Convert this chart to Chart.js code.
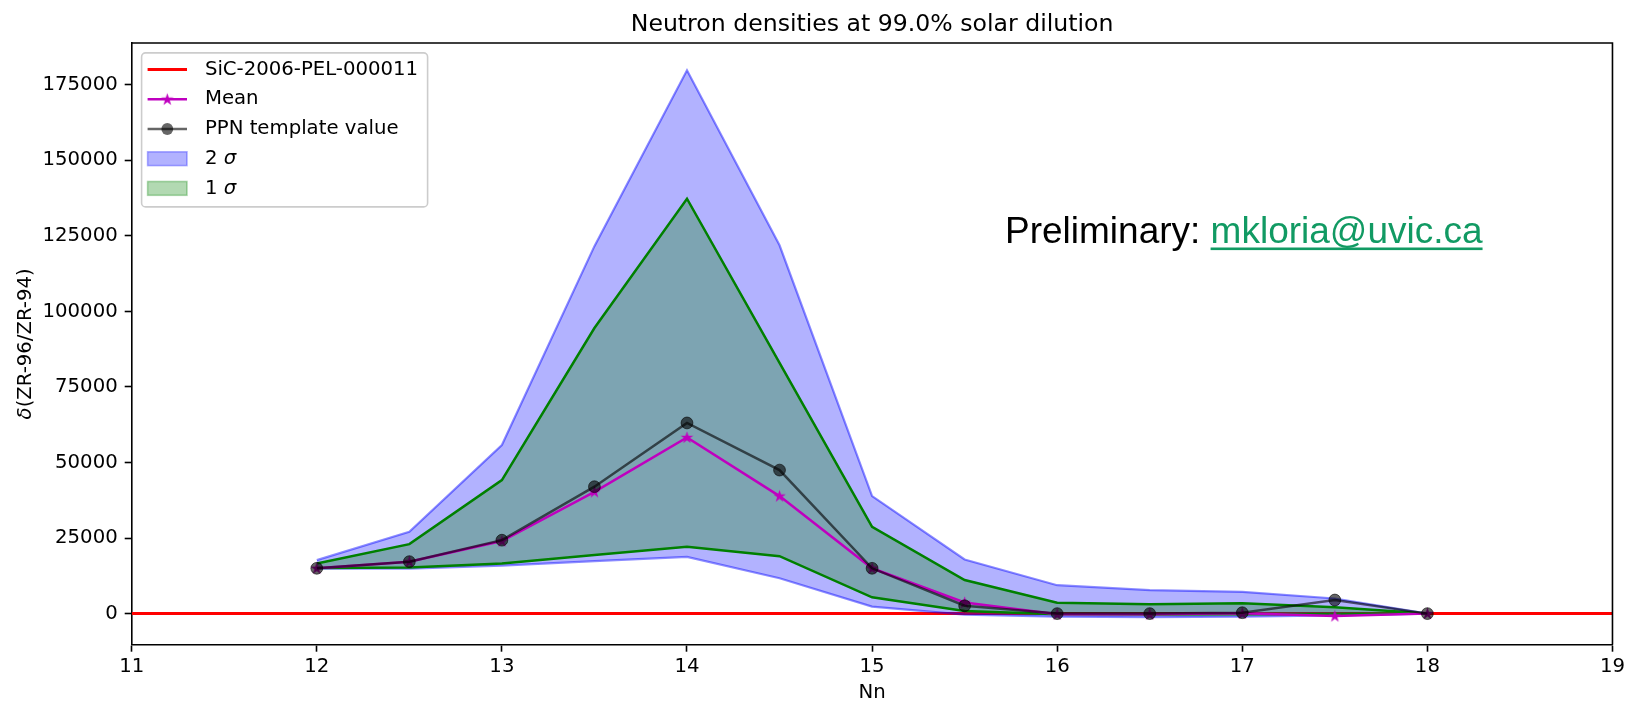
<!DOCTYPE html>
<html>
<head>
<meta charset="utf-8">
<title>Neutron densities at 99.0% solar dilution</title>
<script src="https://cdn.jsdelivr.net/npm/chart.js@4.4.1/dist/chart.umd.min.js"></script>
<style>
  html, body { margin: 0; padding: 0; background: #fff; }
  #wrap { width: 1628px; height: 703px; }
</style>
</head>
<body>
<div id="wrap"><canvas id="chart" width="1628" height="703"></canvas></div>
<script>
// values
const nn = [12, 12.5, 13, 13.5, 14, 14.5, 15, 15.5, 16, 16.5, 17, 17.5, 18];
const twoSigmaUpper = [17700, 27100, 55800, 121600, 179800, 121900, 38900, 17900, 9400, 7800, 7200, 5000, 0];
const twoSigmaLower = [14900, 14900, 15900, 17400, 18800, 11700, 2300, -300, -1000, -1200, -1000, -600, 0];
const oneSigmaUpper = [16600, 23000, 44200, 94500, 137300, 83000, 28700, 11100, 3600, 3100, 3400, 2100, 0];
const oneSigmaLower = [15100, 15300, 16600, 19400, 22100, 19000, 5400, 900, -200, -300, -200, -100, 0];
const meanValues = [15000, 17200, 24000, 40300, 58300, 38900, 15000, 3700, -200, -200, 100, -800, 0];
const ppnValues = [15000, 17200, 24300, 42000, 63100, 47500, 15000, 2600, 0, 0, 300, 4500, 0];
const refLevel = 0;          // SiC-2006-PEL-000011
const xRange = [11, 19];
const yRange = [-10285, 188830];
const xTicks = [11, 12, 13, 14, 15, 16, 17, 18, 19];
const yTicks = [0, 25000, 50000, 75000, 100000, 125000, 150000, 175000];

const FONT = "'DejaVu Sans', sans-serif";
const FS = 19.7;

const pts = ys => nn.map((x, i) => ({ x: x, y: ys[i] }));

// filled 5-point star like matplotlib '*'
function starPath(ctx, cx, cy, r) {
  const inner = r * 0.381966;
  ctx.beginPath();
  for (let i = 0; i < 10; i++) {
    const rr = i % 2 === 0 ? r : inner;
    const ang = -Math.PI / 2 + i * Math.PI / 5;
    const px = cx + rr * Math.cos(ang), py = cy + rr * Math.sin(ang);
    if (i === 0) ctx.moveTo(px, py); else ctx.lineTo(px, py);
  }
  ctx.closePath();
}
const starImg = document.createElement('canvas');
starImg.width = 15; starImg.height = 15;
(function () {
  const c = starImg.getContext('2d');
  starPath(c, 7.5, 7.8, 6.6);
  c.fillStyle = '#bf00bf';
  c.fill();
})();

const decor = {
  id: 'decor',
  afterDraw(chart) {
    const { ctx, chartArea: a } = chart;
    ctx.save();

    // top + right spines
    ctx.strokeStyle = '#000';
    ctx.lineWidth = 1.6;
    ctx.beginPath();
    ctx.moveTo(a.left, a.top);
    ctx.lineTo(a.right, a.top);
    ctx.lineTo(a.right, a.bottom);
    ctx.stroke();

    // title
    ctx.fillStyle = '#000';
    ctx.font = `23.6px ${FONT}`;
    ctx.textAlign = 'center';
    ctx.textBaseline = 'alphabetic';
    ctx.fillText('Neutron densities at 99.0% solar dilution', (a.left + a.right) / 2, 31);

    // y label with italic delta
    ctx.save();
    ctx.translate(31, (a.top + a.bottom) / 2);
    ctx.rotate(-Math.PI / 2);
    const d = 'δ', rest = '(ZR-96/ZR-94)';
    ctx.font = `italic ${FS}px ${FONT}`;
    const wd = ctx.measureText(d).width;
    ctx.font = `${FS}px ${FONT}`;
    const wr = ctx.measureText(rest).width;
    ctx.textAlign = 'left';
    let sx = -(wd + wr) / 2;
    ctx.font = `italic ${FS}px ${FONT}`;
    ctx.fillText(d, sx, 0);
    ctx.font = `${FS}px ${FONT}`;
    ctx.fillText(rest, sx + wd, 0);
    ctx.restore();

    // legend
    const lx = a.left + 9.9, ly = a.top + 9.9, lw = 286, lh = 154;
    ctx.beginPath();
    ctx.roundRect(lx, ly, lw, lh, 4);
    ctx.fillStyle = 'rgba(255,255,255,0.8)';
    ctx.fill();
    ctx.strokeStyle = '#cccccc';
    ctx.lineWidth = 1.6;
    ctx.stroke();

    const hx0 = lx + 6, hx1 = lx + 45.4, hxm = (hx0 + hx1) / 2, tx = lx + 63.3;
    const rows = [0, 1, 2, 3, 4].map(i => ly + 16.7 + i * 29.7);
    ctx.lineCap = 'butt';
    // red line
    ctx.strokeStyle = '#ff0000'; ctx.lineWidth = 3;
    ctx.beginPath(); ctx.moveTo(hx0, rows[0]); ctx.lineTo(hx1, rows[0]); ctx.stroke();
    // mean
    ctx.strokeStyle = '#bf00bf'; ctx.lineWidth = 2.5;
    ctx.beginPath(); ctx.moveTo(hx0, rows[1]); ctx.lineTo(hx1, rows[1]); ctx.stroke();
    ctx.drawImage(starImg, hxm - 7.5, rows[1] - 7.5);
    // ppn
    ctx.strokeStyle = 'rgba(0,0,0,0.6)'; ctx.lineWidth = 2.5;
    ctx.beginPath(); ctx.moveTo(hx0, rows[2]); ctx.lineTo(hx1, rows[2]); ctx.stroke();
    ctx.fillStyle = 'rgba(0,0,0,0.6)';
    ctx.beginPath(); ctx.arc(hxm, rows[2], 5.9, 0, Math.PI * 2); ctx.fill();
    // patches
    const ph = 13.8;
    ctx.lineWidth = 1.6;
    ctx.fillStyle = 'rgba(0,0,255,0.3)'; ctx.strokeStyle = 'rgba(0,0,255,0.3)';
    ctx.fillRect(hx0, rows[3] - ph / 2, hx1 - hx0, ph);
    ctx.strokeRect(hx0, rows[3] - ph / 2, hx1 - hx0, ph);
    ctx.fillStyle = 'rgba(0,128,0,0.3)'; ctx.strokeStyle = 'rgba(0,128,0,0.3)';
    ctx.fillRect(hx0, rows[4] - ph / 2, hx1 - hx0, ph);
    ctx.strokeRect(hx0, rows[4] - ph / 2, hx1 - hx0, ph);

    ctx.fillStyle = '#000';
    ctx.textAlign = 'left';
    ctx.textBaseline = 'middle';
    ctx.font = `${FS}px ${FONT}`;
    ctx.fillText('SiC-2006-PEL-000011', tx, rows[0]);
    ctx.fillText('Mean', tx, rows[1]);
    ctx.fillText('PPN template value', tx, rows[2]);
    [['2 ', rows[3]], ['1 ', rows[4]]].forEach(([t, y]) => {
      ctx.font = `${FS}px ${FONT}`;
      ctx.fillText(t, tx, y);
      const w = ctx.measureText(t).width;
      ctx.font = `italic ${FS}px ${FONT}`;
      ctx.fillText('σ', tx + w, y);
    });

    // preliminary note
    ctx.textBaseline = 'alphabetic';
    ctx.font = "37px 'Liberation Sans', Arial, sans-serif";
    const pre = 'Preliminary: ', mail = 'mkloria@uvic.ca';
    const px = 1005, py = 243;
    ctx.fillStyle = '#000';
    ctx.fillText(pre, px, py);
    const wp = ctx.measureText(pre).width;
    const wm = ctx.measureText(mail).width;
    ctx.fillStyle = '#119a63';
    ctx.fillText(mail, px + wp, py);
    ctx.fillRect(px + wp, py + 4.5, wm, 2.6);

    ctx.restore();
  }
};

const tickFont = { family: FONT, size: FS, lineHeight: 1.2 };

new Chart(document.getElementById('chart'), {
  type: 'line',
  data: {
    datasets: [
      {
        label: '2 σ upper', data: pts(twoSigmaUpper), order: 6,
        borderColor: 'rgba(0,0,255,0.45)', borderWidth: 2.2,
        backgroundColor: 'rgba(0,0,255,0.3)', fill: '+1', pointRadius: 0
      },
      {
        label: '2 σ lower', data: pts(twoSigmaLower), order: 5,
        borderColor: 'rgba(0,0,255,0.45)', borderWidth: 2.2, fill: false, pointRadius: 0
      },
      {
        label: '1 σ upper', data: pts(oneSigmaUpper), order: 4,
        borderColor: '#008000', borderWidth: 2.5,
        backgroundColor: 'rgba(0,128,0,0.3)', fill: '+1', pointRadius: 0
      },
      {
        label: '1 σ lower', data: pts(oneSigmaLower), order: 3,
        borderColor: '#008000', borderWidth: 2.5, fill: false, pointRadius: 0
      },
      {
        label: 'SiC-2006-PEL-000011', order: 7,
        data: xRange.map(x => ({ x: x, y: refLevel })),
        borderColor: '#ff0000', borderWidth: 3, fill: false, pointRadius: 0
      },
      {
        label: 'Mean', data: pts(meanValues), order: 2,
        borderColor: '#bf00bf', borderWidth: 2.5, fill: false,
        pointStyle: starImg, pointRadius: 6
      },
      {
        label: 'PPN template value', data: pts(ppnValues), order: 1,
        borderColor: 'rgba(0,0,0,0.6)', borderWidth: 2.5, fill: false,
        pointStyle: 'circle', pointRadius: 5.9,
        pointBackgroundColor: 'rgba(0,0,0,0.6)', pointBorderColor: 'rgba(0,0,0,0.6)', pointBorderWidth: 1
      }
    ]
  },
  options: {
    responsive: false,
    animation: false,
    events: [],
    layout: { padding: { left: 0, top: 43, right: 15, bottom: 0 } },
    elements: { line: { tension: 0 } },
    plugins: { legend: { display: false }, tooltip: { enabled: false } },
    scales: {
      x: {
        type: 'linear', min: xRange[0], max: xRange[1],
        afterBuildTicks: s => { s.ticks = xTicks.map(v => ({ value: v })); },
        ticks: { autoSkip: false, maxRotation: 0, font: tickFont, color: '#000', padding: 3 },
        grid: { drawOnChartArea: false, tickLength: 7, tickColor: '#000', tickWidth: 1.6 },
        border: { color: '#000', width: 1.6 },
        title: { display: true, text: 'Nn', color: '#000', font: { family: FONT, size: FS, lineHeight: 1 }, padding: 0 },
        afterFit: s => { s.height = 58.3; }
      },
      y: {
        type: 'linear', min: yRange[0], max: yRange[1],
        afterBuildTicks: s => { s.ticks = yTicks.map(v => ({ value: v })); },
        ticks: {
          autoSkip: false, font: tickFont, color: '#000', padding: 7,
          callback: v => String(v)
        },
        grid: { drawOnChartArea: false, tickLength: 7, tickColor: '#000', tickWidth: 1.6 },
        border: { color: '#000', width: 1.6 },
        afterFit: s => { s.width = 131.7; }
      }
    }
  },
  plugins: [decor]
});
</script>
</body>
</html>
